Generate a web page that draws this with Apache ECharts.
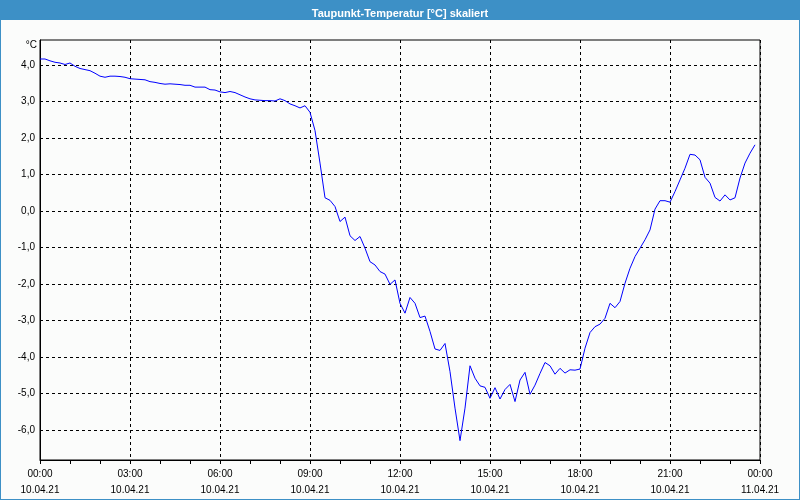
<!DOCTYPE html>
<html>
<head>
<meta charset="utf-8">
<script src="https://cdn.jsdelivr.net/npm/echarts@6/dist/echarts.min.js"></script>
<style>
html,body{margin:0;padding:0;background:#fbfcfb;}
#chart{width:800px;height:500px;}
</style>
</head>
<body>
<div id="chart"></div>
<script>
// ---- data ----
const chartTitle = 'Taupunkt-Temperatur [°C] skaliert';
const unitLabel = '°C';
const sampleStepMinutes = 10; // one reading every 10 minutes, starting 00:00 on 10.04.21
const dewPoint = [
  4.16, 4.16, 4.11, 4.07, 4.05, 4.01, 4.05, 3.96, 3.90, 3.87,
  3.84, 3.77, 3.69, 3.66, 3.69, 3.69, 3.68, 3.66, 3.62, 3.61,
  3.60, 3.59, 3.54, 3.52, 3.49, 3.47, 3.48, 3.47, 3.46, 3.44,
  3.44, 3.39, 3.39, 3.39, 3.32, 3.31, 3.26, 3.24, 3.27, 3.24,
  3.18, 3.12, 3.07, 3.04, 3.03, 3.02, 3.02, 3.01, 3.07, 3.02,
  2.93, 2.88, 2.82, 2.88, 2.70, 2.20, 1.31, 0.36, 0.29, 0.12,
  -0.29, -0.17, -0.68, -0.81, -0.70, -1.02, -1.39, -1.48, -1.66, -1.73,
  -2.01, -1.89, -2.53, -2.80, -2.37, -2.53, -2.92, -2.88, -3.30, -3.78,
  -3.82, -3.63, -4.40, -5.40, -6.29, -5.40, -4.24, -4.58, -4.79, -4.83,
  -5.13, -4.84, -5.15, -4.89, -4.75, -5.22, -4.63, -4.42, -5.02, -4.77,
  -4.45, -4.15, -4.24, -4.47, -4.31, -4.44, -4.35, -4.36, -4.33, -3.76,
  -3.33, -3.17, -3.10, -2.94, -2.53, -2.65, -2.48, -1.98, -1.57, -1.25,
  -1.02, -0.79, -0.52, 0.05, 0.28, 0.28, 0.24, 0.53, 0.85, 1.17,
  1.55, 1.53, 1.40, 0.92, 0.76, 0.37, 0.27, 0.44, 0.30, 0.36,
  0.90, 1.31, 1.58, 1.81
];
const yTicks = [-6, -5, -4, -3, -2, -1, 0, 1, 2, 3, 4];
const yMin = -6.82, yMax = 4.68;
const xTickHours = [0, 3, 6, 9, 12, 15, 18, 21, 24];
const xTickTimes = ['00:00', '03:00', '06:00', '09:00', '12:00', '15:00', '18:00', '21:00', '00:00'];
const xTickDates = ['10.04.21', '10.04.21', '10.04.21', '10.04.21', '10.04.21', '10.04.21', '10.04.21', '10.04.21', '11.04.21'];

// ---- chart ----
const seriesData = dewPoint.map((v, i) => [i * sampleStepMinutes / 60, v]);
const FONT = '"Liberation Sans", Arial, sans-serif';

const chart = echarts.init(document.getElementById('chart'), null, {renderer: 'canvas'});
chart.setOption({
  backgroundColor: '#fbfcfb',
  animation: false,
  title: {
    text: chartTitle,
    left: 'center',
    top: 3,
    textStyle: {color: '#ffffff', fontFamily: FONT, fontSize: 11, fontWeight: 'bold'}
  },
  graphic: [
    {type: 'rect', z: -1, shape: {x: 0, y: 0, width: 800, height: 20}, style: {fill: '#3d90c6'}},
    {type: 'rect', z: -1, shape: {x: 0, y: 20, width: 1, height: 480}, style: {fill: '#3d90c6'}},
    {type: 'rect', z: -1, shape: {x: 799, y: 20, width: 1, height: 480}, style: {fill: '#3d90c6'}},
    {type: 'rect', z: -1, shape: {x: 0, y: 499, width: 800, height: 1}, style: {fill: '#3d90c6'}}
  ],
  grid: {
    left: 40, right: 40, top: 40, bottom: 40,
    show: true, borderColor: '#000', borderWidth: 1, backgroundColor: 'transparent'
  },
  xAxis: {
    type: 'value',
    min: 0, max: 24, interval: 3,
    axisLine: {show: true, onZero: false, lineStyle: {color: '#000', width: 1}},
    axisTick: {show: true, length: 4, lineStyle: {color: '#000'}},
    minorTick: {show: true, splitNumber: 3, length: 4, lineStyle: {color: '#000'}},
    splitLine: {show: true, lineStyle: {color: '#000', type: [3, 3], width: 1}},
    axisLabel: {
      margin: 6,
      fontFamily: FONT, fontSize: 10, color: '#000', lineHeight: 16,
      showMaxLabel: true, showMinLabel: true,
      formatter: function (v) {
        const k = xTickHours.indexOf(Math.round(v));
        return k >= 0 ? xTickTimes[k] + '\n' + xTickDates[k] : '';
      }
    }
  },
  yAxis: {
    type: 'value',
    min: yMin, max: yMax,
    name: unitLabel,
    nameLocation: 'end',
    nameGap: -5,
    nameTextStyle: {align: 'right', verticalAlign: 'middle', fontFamily: FONT, fontSize: 10, color: '#000', padding: [0, 3, 0, 0]},
    axisLine: {show: true, onZero: false, lineStyle: {color: '#000', width: 1}},
    axisTick: {show: false, customValues: yTicks},
    splitLine: {show: true, lineStyle: {color: '#000', type: [3, 3], width: 1}},
    axisLabel: {
      customValues: yTicks,
      margin: 5,
      fontFamily: FONT, fontSize: 10, color: '#000',
      formatter: v => v.toFixed(1).replace('.', ',')
    }
  },
  series: [{
    type: 'line',
    data: seriesData,
    showSymbol: false,
    symbol: 'none',
    lineStyle: {color: '#0000ff', width: 1},
    itemStyle: {color: '#0000ff'}
  }]
});
</script>
</body>
</html>
